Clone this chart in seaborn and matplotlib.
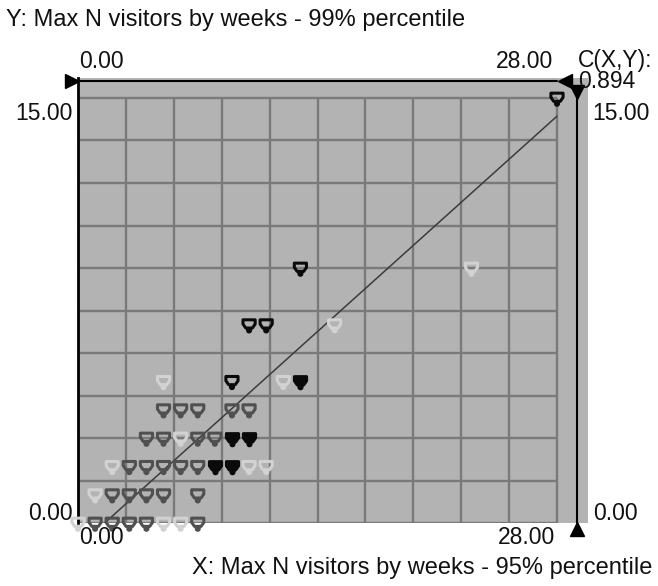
import numpy as np
import pandas as pd
import matplotlib
matplotlib.use("Agg")
import matplotlib.pyplot as plt
from matplotlib.path import Path
import seaborn as sns

# Weekly visitor maxima: 95% percentile (x) against 99% percentile (y)
x_p95 = [0, 1, 2, 3, 4, 5, 6, 7,
         1, 2, 3, 4, 5, 7,
         2, 3, 4, 5, 6, 7, 8, 9, 10, 11,
         4, 5, 6, 7, 8, 9, 10,
         5, 6, 7, 9, 10,
         5, 9, 12, 13,
         10, 11, 15,
         13, 23,
         28]
y_p99 = [0, 0, 0, 0, 0, 0, 0, 0,
         1, 1, 1, 1, 1, 1,
         2, 2, 2, 2, 2, 2, 2, 2, 2, 2,
         3, 3, 3, 3, 3, 3, 3,
         4, 4, 4, 4, 4,
         5, 5, 5, 5,
         7, 7, 7,
         9, 9,
         15]
# marker tone per point
tone = ["light", "dark", "dark", "dark", "dark", "light", "light", "dark",
        "light", "dark", "dark", "dark", "dark", "dark",
        "light", "dark", "dark", "dark", "dark", "dark", "filled", "filled", "light", "light",
        "dark", "dark", "light", "dark", "dark", "filled", "filled",
        "dark", "dark", "dark", "dark", "dark",
        "light", "black", "light", "filled",
        "black", "black", "light",
        "black", "light",
        "black"]

x_range = [0, 28]
y_range = [0, 15]
x_labels = ["0.00", "28.00"]
y_labels = ["0.00", "15.00"]
fit_slope = 0.543
fit_intercept = -0.845
corr_label = "0.894"

x_title = "X: Max N visitors by weeks - 95% percentile"
y_title = "Y: Max N visitors by weeks - 99% percentile"

df = pd.DataFrame({"x": x_p95, "y": y_p99, "tone": tone})

sns.set_style("white")
plt.rcParams["font.family"] = ["Liberation Sans", "DejaVu Sans"]
FS = 16.5

W, H = 658, 586
fig = plt.figure(figsize=(W / 100, H / 100), dpi=100)

# pixel geometry of the scatter panel
px_x0, px_x1 = 78, 557      # data x = 0 .. 28
px_y0, px_y1 = 523, 98      # data y = 0 .. 15
px_right, px_top = 588, 78  # grey area including slider strips
sx = (px_x1 - px_x0) / (x_range[1] - x_range[0])
sy = (px_y0 - px_y1) / (y_range[1] - y_range[0])

ax = fig.add_axes([px_x0 / W, 1 - px_y0 / H,
                   (px_right - px_x0) / W, (px_y0 - px_top) / H])
ax.set_xlim(x_range[0], x_range[1] + (px_right - px_x1) / sx)
ax.set_ylim(y_range[0], y_range[1] + (px_y1 - px_top) / sy)
ax.set_facecolor("#b3b3b3")
for side in ["top", "right", "bottom"]:
    ax.spines[side].set_visible(False)
ax.spines["left"].set_color("black")
ax.spines["left"].set_linewidth(2)
ax.set_xticks([])
ax.set_yticks([])

# grid: ten cells each way
ax.vlines(np.linspace(*x_range, 11), *y_range, color="#7a7a7a", lw=1.7, zorder=1)
ax.hlines(np.linspace(*y_range, 11), *x_range, color="#7a7a7a", lw=1.7, zorder=1)

# fitted line
fx = np.array([-fit_intercept / fit_slope, x_range[1]])
ax.plot(fx, fit_intercept + fit_slope * fx, color="#3c3c3c", lw=1.1, zorder=2)

# shield-shaped marker with a small ring hanging below it
shield_pts = [(-1, 0.8), (1, 0.8), (1, 0.1), (0.55, -0.55), (-0.55, -0.55), (-1, 0.1), (-1, 0.8)]
shield_codes = [Path.MOVETO] + [Path.LINETO] * 5 + [Path.CLOSEPOLY]
ring = Path.circle((0, -0.95), 0.25)
shield = Path.make_compound_path(Path(shield_pts, shield_codes), ring)

styles = {
    "light":  dict(facecolor="none", edgecolor="#d2d2d2"),
    "dark":   dict(facecolor="none", edgecolor="#505050"),
    "black":  dict(facecolor="none", edgecolor="#0a0a0a"),
    "filled": dict(facecolor="#0a0a0a", edgecolor="#0a0a0a"),
}
for name, st in styles.items():
    sub = df[df["tone"] == name]
    sns.scatterplot(data=sub, x="x", y="y", ax=ax, marker=shield, s=110,
                    linewidth=2.2, zorder=3, clip_on=False, legend=False, **st)
ax.set_xlabel("")
ax.set_ylabel("")

# slider axes along the top and the right
top_y = y_range[1] + (px_y1 - 81) / sy
right_x = x_range[1] + (577 - px_x1) / sx
ax.plot(x_range, [top_y, top_y], color="black", lw=1.5, clip_on=False, zorder=4)
ax.plot([right_x, right_x], y_range, color="black", lw=1.5, clip_on=False, zorder=4)
ax.plot([x_range[0] - 6 / sx], [top_y], marker=">", ms=10, color="black", clip_on=False, zorder=5)
ax.plot([x_range[1] + 8 / sx], [top_y], marker="<", ms=10, color="black", clip_on=False, zorder=5)
ax.plot([right_x], [y_range[1] + 6 / sy], marker="v", ms=10, color="black", clip_on=False, zorder=5)
ax.plot([right_x], [y_range[0] - 6 / sy], marker="^", ms=10, color="black", clip_on=False, zorder=5)

def ftext(px, py, s, ha="left", va="center", size=FS):
    fig.text(px / W, 1 - py / H, s, ha=ha, va=va, fontsize=size, color="#111111")

ftext(6, 20, y_title, size=17)
ftext(652, 568, x_title, ha="right", size=17)
ftext(79, 61, x_labels[0])
ftext(553, 61, x_labels[1], ha="right")
ftext(79, 537, x_labels[0])
ftext(555, 538, x_labels[1], ha="right")
ftext(73, 114, y_labels[1], ha="right")
ftext(73, 514, y_labels[0], ha="right")
ftext(592, 114, y_labels[1])
ftext(593, 514, y_labels[0])
ftext(578, 61, "C(X,Y):")
ftext(578, 82, corr_label)

fig.savefig("out.png", dpi=100)
